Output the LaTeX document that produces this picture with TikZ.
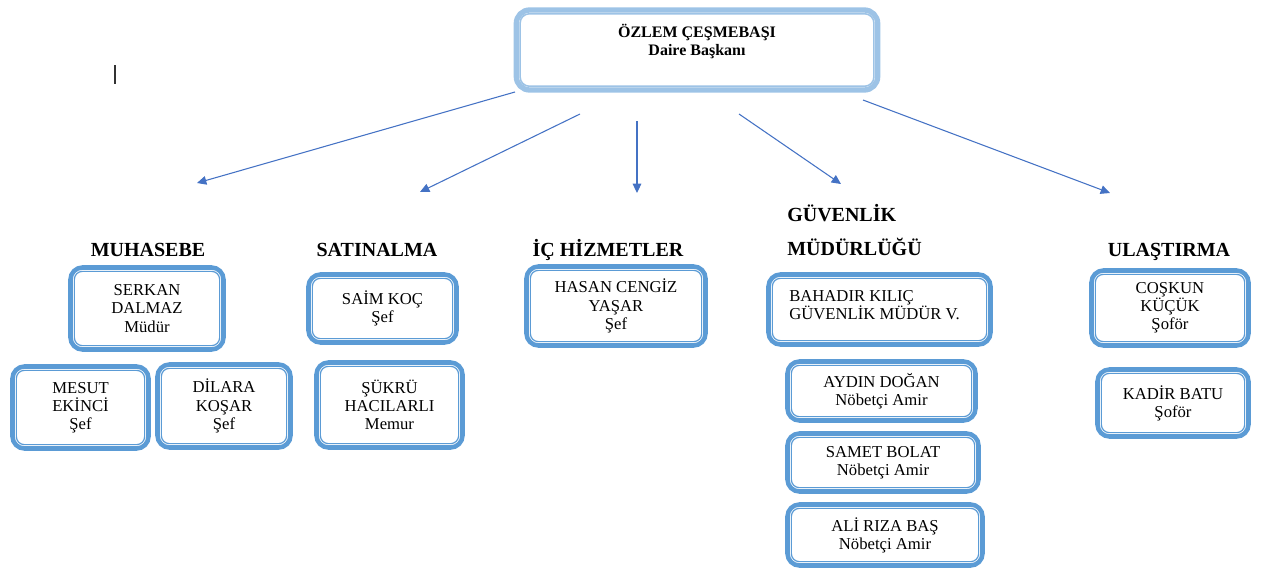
\documentclass[tikz,border=0pt]{standalone}
\usepackage{fontspec}
\setmainfont{Liberation Serif}
\usetikzlibrary{arrows.meta}
\definecolor{boxblue}{HTML}{5B9BD5}
\definecolor{topblue}{HTML}{9DC3E6}
\definecolor{arrblue}{HTML}{4472C4}
\tikzset{
  pbox/.style={draw=boxblue, line width=3.4pt, rounded corners=9pt, fill=white,
    align=center, inner sep=0pt, font=\fontsize{12.5}{13.6}\selectfont},
  innerline/.style={draw=boxblue, line width=0.9pt, rounded corners=6pt},
  head/.style={anchor=base, inner sep=0pt, font=\fontsize{15}{16}\selectfont\bfseries},
  conn/.style={draw=arrblue, line width=0.8pt, -{Triangle[length=7pt,width=6.5pt]}},
  plain/.style={inner sep=0pt, font=\fontsize{12.5}{13.6}\selectfont}
}
\begin{document}
\begin{tikzpicture}[x=0.75pt,y=-0.75pt]
\useasboundingbox (0,0) rectangle (1261,571);
% top box
\node[draw=topblue, line width=4pt, rounded corners=10pt, fill=white,
      minimum width=271pt, minimum height=60pt, inner sep=0pt] (top) at (697,50) {};
\draw[draw=topblue, line width=1.2pt, rounded corners=7pt]
  ([shift={(4.8pt,4.8pt)}]top.south west) rectangle ([shift={(-4.8pt,-4.8pt)}]top.north east);
\node[align=center, inner sep=0pt, font=\fontsize{12}{13.5}\selectfont\bfseries] (toptxt) at (697,41)
  {ÖZLEM ÇEŞMEBAŞI\\Daire Başkanı};
% cursor mark
\coordinate (c1) at (115,65);
\coordinate (c2) at (115,84);
\draw[black!80, line width=0.9pt] (c1) -- (c2);
% arrows (free floating)
\coordinate (a1s) at (515,92);  \coordinate (a1e) at (197,183);
\coordinate (a2s) at (580,114); \coordinate (a2e) at (420,192);
\coordinate (a3s) at (637,121); \coordinate (a3e) at (637,193);
\coordinate (a4s) at (739,114); \coordinate (a4e) at (841,184);
\coordinate (a5s) at (863,100); \coordinate (a5e) at (1110,193);
\draw[conn] (a1s) -- (a1e);
\draw[conn] (a2s) -- (a2e);
\draw[conn] (a3s) -- (a3e);
\draw[conn] (a4s) -- (a4e);
\draw[conn] (a5s) -- (a5e);
% headings
\node[head] (h1) at (148,256) {MUHASEBE};
\node[head] (h2) at (377,256) {SATINALMA};
\node[head] (h3) at (608,256) {İÇ HİZMETLER};
\node[head, anchor=base west] (h4a) at (787,221) {GÜVENLİK};
\node[head, anchor=base west] (h4b) at (787,255) {MÜDÜRLÜĞÜ};
\node[head] (h5) at (1169,256) {ULAŞTIRMA};
% boxes
\node[pbox, minimum width=114.75pt, minimum height=61.5pt] (serkan) at (147,308.5) {SERKAN\\DALMAZ\\Müdür};
\node[pbox, minimum width=102pt, minimum height=61.5pt] (mesut) at (80.5,407.5) {MESUT\\EKİNCİ\\Şef};
\node[pbox, minimum width=99.75pt, minimum height=62.25pt] (dilara) at (224,406) {DİLARA\\KOŞAR\\Şef};
\node[pbox, minimum width=111pt, minimum height=51pt] (saim) at (382.5,308.5) {SAİM KOÇ\\Şef};
\node[pbox, minimum width=109.5pt, minimum height=63.75pt] (sukru) at (389.5,405) {ŞÜKRÜ\\HACILARLI\\Memur};
\node[pbox, minimum width=134.25pt, minimum height=59.25pt] (hasan) at (616,306) {HASAN CENGİZ\\YAŞAR\\Şef};
\node[pbox, minimum width=166.5pt, minimum height=52.5pt] (bahadir) at (879.5,309.5) {};
\node[plain, align=left, anchor=west] (bahtxt) at (789,305) {BAHADIR KILIÇ\\GÜVENLİK MÜDÜR V.};
\node[pbox, minimum width=141pt, minimum height=44.25pt] (aydin) at (881.5,391) {AYDIN DOĞAN\\Nöbetçi Amir};
\node[pbox, minimum width=143.25pt, minimum height=43.5pt] (samet) at (883,462.5) {SAMET BOLAT\\Nöbetçi Amir};
\node[pbox, minimum width=146.25pt, minimum height=45.75pt] (ali) at (885,535) {ALİ RIZA BAŞ\\Nöbetçi Amir};
\node[pbox, minimum width=117.75pt, minimum height=56.25pt] (coskun) at (1170,308) {COŞKUN\\KÜÇÜK\\Şoför};
\node[pbox, minimum width=113.25pt, minimum height=50.25pt] (kadir) at (1173,403) {KADİR BATU\\Şoför};
% inner lines
\foreach \n in {serkan,mesut,dilara,saim,sukru,hasan,bahadir,aydin,samet,ali,coskun,kadir}
  \draw[innerline] ([shift={(4.6pt,4.6pt)}]\n.south west) rectangle ([shift={(-4.6pt,-4.6pt)}]\n.north east);
\end{tikzpicture}
\end{document}
